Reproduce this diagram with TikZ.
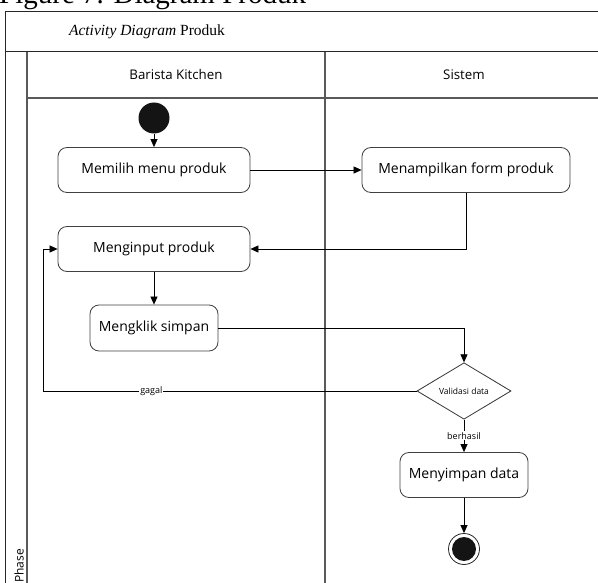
\documentclass[tikz,border=0pt]{standalone}
\usepackage{fontspec}
\setmainfont{Liberation Serif}
\setsansfont{Open Sans}
\usetikzlibrary{arrows.meta, positioning, shapes.geometric}

\begin{document}
\begin{tikzpicture}[
  x=1pt, y=-1pt,
  frame/.style={draw=black!85, line width=1pt},
  lane/.style={draw=black!65, line width=1.5pt},
  action/.style={draw=black!75, line width=0.8pt, rounded corners=9pt, fill=white, minimum height=45pt, inner sep=0pt, font=\sffamily\fontsize{14}{16}\selectfont},
  decision/.style={diamond, draw=black!80, line width=0.8pt, fill=white, minimum width=94pt, minimum height=47pt, inner sep=0pt, font=\sffamily\fontsize{8.5}{10}\selectfont},
  guard/.style={fill=white, inner sep=1pt, font=\sffamily\fontsize{9}{10}\selectfont},
  arrow/.style={-{Triangle[length=8pt, width=7pt]}, line width=0.7pt},
  ]
  \useasboundingbox (0,0) rectangle (598,583);
  \clip (0,0) rectangle (598,583);

  % Caption (cut off at the top)
  \node[anchor=base west, inner sep=0pt, font=\fontsize{29}{33}\selectfont] (caption) at (-1,4) {Figure 7. Diagram Produk};

  % Frame and swimlanes
  \draw[frame] (5,590) -- (5,12) -- (600,12);
  \draw[frame] (5,52) -- (600,52);
  \draw[lane] (27,52) -- (27,590);
  \draw[lane] (325,52) -- (325,590);
  \draw[lane] (27,98) -- (600,98);

  \node[font=\fontsize{15.5}{18}\selectfont] (title) at (147,32) {\textit{Activity Diagram} Produk};
  \node[font=\sffamily\fontsize{13.3}{15}\selectfont] (barista) at (176,75) {Barista Kitchen};
  \node[font=\sffamily\fontsize{13.3}{15}\selectfont] (sistem) at (464,75) {Sistem};
  \node[rotate=90, anchor=south west, inner sep=0pt, font=\sffamily\fontsize{12}{14}\selectfont] (phase) at (24,583) {Phase};

  % Start
  \node[circle, fill=black!92, minimum size=31pt, inner sep=0pt] (start) at (154,118) {};

  % Actions
  \node[action, minimum width=192pt] (memilih) at (154,170) {Memilih menu produk};
  \node[action, minimum width=208pt] (menampilkan) at (466,170) {Menampilkan form produk};
  \node[action, minimum width=192pt] (menginput) at (154,249) {Menginput produk};
  \node[action, minimum width=128pt, minimum height=46pt] (mengklik) at (154,328) {Mengklik simpan};

  % Decision
  \node[decision] (validasi) at (464,391) {Validasi data};

  \node[action, minimum width=128pt] (menyimpan) at (464,475) {Menyimpan data};

  % End
  \node[circle, draw=black!85, line width=0.8pt, minimum size=31pt, inner sep=0pt,
        path picture={\fill[black!92] (path picture bounding box.center) circle (12pt);}] (end) at (464,549) {};

  % Flows
  \coordinate (back) at (43,391);
  \draw[arrow] (start) -- (memilih);
  \draw[arrow] (memilih) -- (menampilkan);
  \draw[arrow] (menampilkan.south) |- (menginput.east);
  \draw[arrow] (menginput) -- (mengklik);
  \draw[arrow] (mengklik.east) -| (validasi.north);
  \draw[arrow] (validasi.west) -- node[guard, pos=0.71] {gagal} (back) |- (menginput.west);
  \draw[arrow] (validasi) -- node[guard] {berhasil} (menyimpan);
  \draw[arrow] (menyimpan) -- (end);

\end{tikzpicture}
\end{document}
